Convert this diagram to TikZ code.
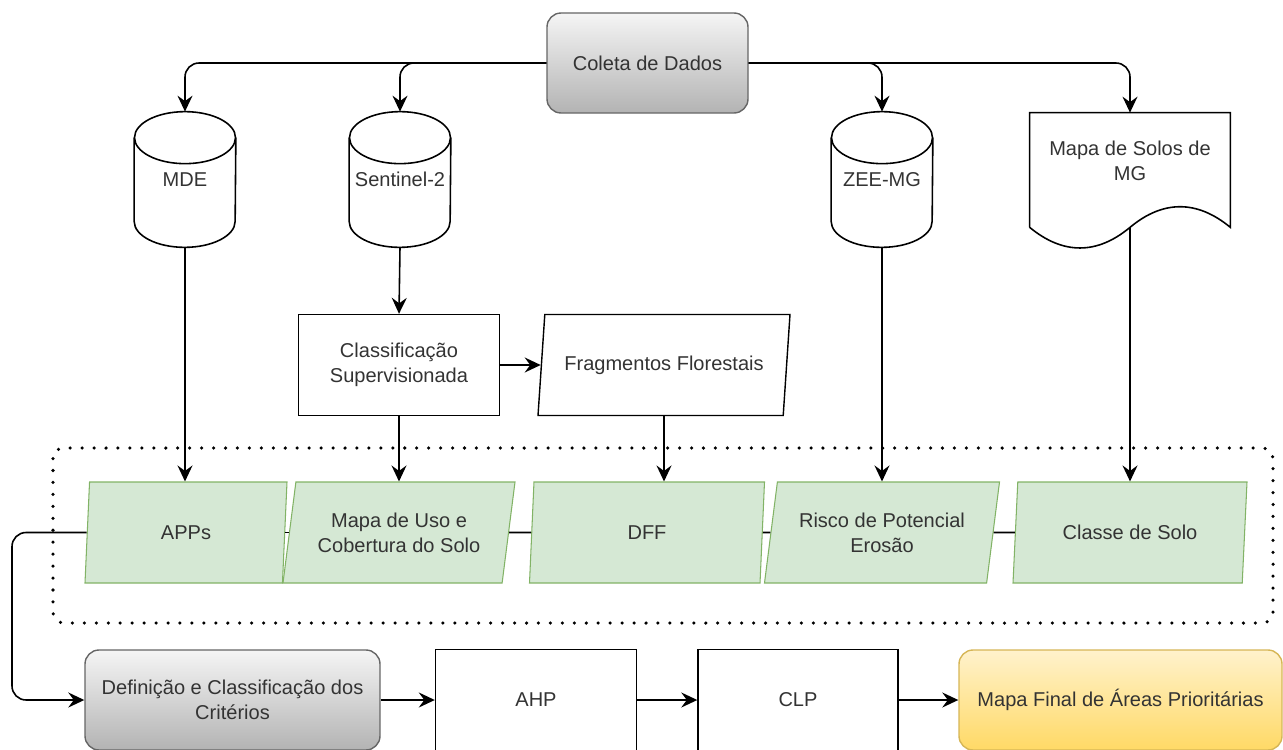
\documentclass[tikz,border=0pt]{standalone}
\usepackage{fontspec}
\setmainfont{Liberation Sans}
\definecolor{boxgray}{HTML}{666666}
\definecolor{txtgray}{HTML}{333333}
\definecolor{graytop}{HTML}{F5F5F5}
\definecolor{graybot}{HTML}{B3B3B3}
\definecolor{goldtop}{HTML}{FFF2CC}
\definecolor{goldbot}{HTML}{FFD966}
\definecolor{greenfill}{HTML}{D5E8D4}
\definecolor{greenline}{HTML}{82B366}
\definecolor{goldline}{HTML}{D6B656}
\usetikzlibrary{arrows.meta, positioning, shapes.geometric, calc}
\tikzset{
	basefont/.style={font=\fontsize{11.4pt}{14.2pt}\selectfont, text=txtgray, align=center},
	grayproc/.style={basefont, rectangle, rounded corners=8pt, draw=boxgray, line width=0.8pt, top color=graytop, bottom color=graybot, minimum height=2.0cm},
	goldproc/.style={basefont, rectangle, rounded corners=8pt, draw=goldline, line width=0.8pt, top color=goldtop, bottom color=goldbot, minimum height=2.0cm},
	plainproc/.style={basefont, rectangle, draw=black, line width=0.8pt, minimum width=4.02cm, minimum height=2.02cm},
	database/.style={basefont, rectangle, minimum width=2.02cm, minimum height=2.7cm, inner sep=0pt},
	dataout/.style={basefont, trapezium, trapezium left angle=70, trapezium right angle=110, trapezium stretches body, draw=black, line width=0.8pt, minimum height=2.02cm, inner sep=0pt},
	layer/.style={basefont, trapezium, trapezium left angle=72, trapezium right angle=108, trapezium stretches body, draw=greenline, fill=greenfill, line width=0.6pt, minimum height=2.02cm, inner sep=0pt},
	flowarrow/.style={-{Stealth[length=3.2mm, width=3mm, inset=1.1mm]}, line width=0.9pt},
	link/.style={line width=0.9pt},
	groupbox/.style={line width=2pt, dash pattern=on 0pt off 6.8pt, line cap=round, rounded corners=6pt},
}
\begin{document}
\begin{tikzpicture}
	\useasboundingbox (0,0) rectangle (25.66,-14.98);
	% data sources
	\node[grayproc, minimum width=4.02cm] (coleta) at (12.95,-1.26) {Coleta de Dados};
	\node[database] (mde) at (3.70,-3.59) {MDE};
	\node[database] (sentinel) at (8.00,-3.59) {Sentinel-2};
	\node[database] (zee) at (17.64,-3.59) {ZEE-MG};
	\foreach \db in {mde, sentinel, zee} {
		\draw[link] ($(\db.north)+(0,-0.52)$) ellipse (1.01 and 0.52);
		\draw[link] ($(\db.north west)+(0,-0.52)$) -- ($(\db.south west)+(0,0.52)$)
			arc (180:360:1.01 and 0.52) -- ($(\db.north east)+(0,-0.52)$);
	}
	\node[rectangle, minimum width=4.0cm, minimum height=2.28cm, inner sep=0pt] (doc) at (22.60,-3.40) {};
	\node[basefont] (doclabel) at (22.60,-3.21) {Mapa de Solos de\\MG};
	\draw[link] (doc.south west) -- (doc.north west) -- (doc.north east) -- (doc.south east)
		.. controls ($(doc.south)+(1.34,0.55)$) and ($(doc.south)+(0.66,0.55)$) .. (doc.south)
		.. controls ($(doc.south)+(-0.66,-0.55)$) and ($(doc.south)+(-1.34,-0.55)$) .. (doc.south west);
	% processing
	\node[plainproc] (classup) at (7.98,-7.30) {Classificação\\Supervisionada};
	\node[dataout, minimum width=5.04cm] (frag) at (13.28,-7.30) {Fragmentos Florestais};
	% criteria layers
	\draw[groupbox] (1.06,-8.96) rectangle (25.46,-12.46);
	\node[layer, minimum width=4.04cm] (apps) at (3.72,-10.65) {APPs};
	\node[layer, minimum width=4.64cm] (uso) at (7.98,-10.65) {Mapa de Uso e\\Cobertura do Solo};
	\node[layer, minimum width=4.70cm] (dff) at (12.94,-10.65) {DFF};
	\node[layer, minimum width=4.70cm] (risco) at (17.64,-10.65) {Risco de Potencial\\Erosão};
	\node[layer, minimum width=4.68cm] (classe) at (22.60,-10.65) {Classe de Solo};
	% analysis
	\node[grayproc, minimum width=5.9cm] (def) at (4.65,-14.0) {Definição e Classificação dos\\Critérios};
	\node[plainproc] (ahp) at (10.72,-14.0) {AHP};
	\node[plainproc, minimum width=4.0cm] (clp) at (15.96,-14.0) {CLP};
	\node[goldproc, minimum width=6.46cm] (final) at (22.41,-14.0) {Mapa Final de Áreas Prioritárias};
	\coordinate (turn) at (0.24,-12.0);
	% connectors
	\draw[flowarrow, rounded corners=8pt] (coleta.west) -| (mde.north);
	\draw[flowarrow, rounded corners=8pt] (coleta.west) -| (sentinel.north);
	\draw[flowarrow, rounded corners=8pt] (coleta.east) -| (zee.north);
	\draw[flowarrow, rounded corners=8pt] (coleta.east) -| (doc.north);
	\draw[flowarrow] (sentinel.south) -- (classup.north);
	\draw[flowarrow] (classup.east) -- (frag.west);
	\draw[flowarrow] (mde.south) -- (mde.south |- apps.north);
	\draw[flowarrow] (classup.south) -- (classup.south |- uso.north);
	\draw[flowarrow] (frag.south) -- (frag.south |- dff.north);
	\draw[flowarrow] (zee.south) -- (zee.south |- risco.north);
	\draw[flowarrow] (doc.south) -- (classe.north);
	\draw[link] (apps.east) -- (uso.west);
	\draw[link] (uso.east) -- (dff.west);
	\draw[link] (dff.east) -- (risco.west);
	\draw[link] (risco.east) -- (classe.west);
	\draw[flowarrow, rounded corners=8pt] (apps.west) -- (apps.west -| turn) |- (def.west);
	\draw[flowarrow] (def.east) -- (ahp.west);
	\draw[flowarrow] (ahp.east) -- (clp.west);
	\draw[flowarrow] (clp.east) -- (final.west);
\end{tikzpicture}
\end{document}
